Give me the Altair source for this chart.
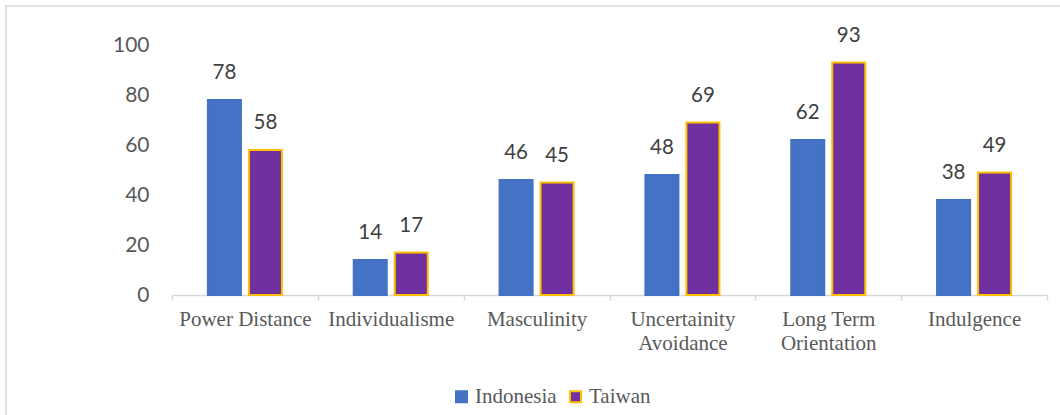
import altair as alt
import pandas as pd

# Hofstede cultural dimension scores
dimensions = [
    "Power Distance",
    "Individualisme",
    "Masculinity",
    "Uncertainity\nAvoidance",
    "Long Term\nOrientation",
    "Indulgence",
]
indonesia = [78, 14, 46, 48, 62, 38]
taiwan = [58, 17, 45, 69, 93, 49]
countries = ["Indonesia", "Taiwan"]
fill_colors = ["#4472C4", "#7030A0"]
edge_colors = ["#4472C4", "#FFC000"]

rows = []
for dim, a, b in zip(dimensions, indonesia, taiwan):
    rows.append({"dimension": dim, "country": "Indonesia", "score": a})
    rows.append({"dimension": dim, "country": "Taiwan", "score": b})
df = pd.DataFrame(rows)

W, H = 875, 250
PAD_L, PAD_T = 172, 45

x_enc = alt.X(
    "dimension:N",
    sort=dimensions,
    title=None,
    scale=alt.Scale(paddingInner=0, paddingOuter=0),
    axis=alt.Axis(
        labelAngle=0,
        labelExpr="split(datum.label, '\\n')",
        labelFont="Liberation Serif",
        labelFontSize=21,
        labelColor="#595959",
        labelLineHeight=24,
        labelPadding=8,
        domainColor="#D9D9D9",
        domainWidth=1.5,
        tickColor="#D9D9D9",
        tickWidth=1.5,
        tickSize=5,
        tickBand="extent",
        grid=False,
    ),
)
xo_enc = alt.XOffset(
    "country:N",
    sort=countries,
    scale=alt.Scale(paddingInner=0.195, paddingOuter=0.875),
)
y_enc = alt.Y(
    "score:Q",
    title=None,
    scale=alt.Scale(domain=[0, 100]),
    axis=alt.Axis(
        values=[0, 20, 40, 60, 80, 100],
        domain=False,
        ticks=False,
        grid=False,
        labelFont="Lato",
        labelFontSize=21,
        labelColor="#595959",
        labelPadding=23,
    ),
)

bars = alt.Chart(df).mark_bar(strokeWidth=2).encode(
    x=x_enc,
    xOffset=xo_enc,
    y=y_enc,
    fill=alt.Fill(
        "country:N",
        sort=countries,
        scale=alt.Scale(domain=countries, range=fill_colors),
        legend=alt.Legend(
            title=None,
            orient="none",
            direction="horizontal",
            legendX=279,
            legendY=341,
            symbolType="square",
            symbolSize=121,
            symbolStrokeWidth=2,
            labelOffset=3,
            columnPadding=8,
            padding=0,
        ),
    ),
    stroke=alt.Stroke(
        "country:N",
        sort=countries,
        scale=alt.Scale(domain=countries, range=edge_colors),
        legend=None,
    ),
)

labels = alt.Chart(df).mark_text(
    baseline="middle",
    dy=-27,
    font="Lato",
    fontSize=20.5,
    color="#404040",
).encode(
    x=alt.X("dimension:N", sort=dimensions),
    xOffset=alt.XOffset("country:N", sort=countries),
    y="score:Q",
    text="score:Q",
)

# light outline around the chart area
frame = alt.Chart(pd.DataFrame({"k": [0]})).mark_rect(
    fill=None, stroke="#D9D9D9", strokeWidth=1.5
).encode(
    x=alt.value(6 - PAD_L),
    x2=alt.value(1075 - PAD_L),
    y=alt.value(6 - PAD_T),
    y2=alt.value(430 - PAD_T),
)

chart = (
    alt.layer(frame, bars, labels)
    .properties(
        width=W,
        height=H,
        autosize=alt.AutoSizeParams(type="none"),
        padding={"left": PAD_L, "top": PAD_T, "right": 1060 - PAD_L - W, "bottom": 415 - PAD_T - H},
        background="white",
    )
    .configure_view(stroke=None)
    .configure_legend(
        labelFont="Liberation Serif",
        labelFontSize=21,
        labelColor="#595959",
    )
)

chart.save("out.html", embed_options={"renderer": "svg", "actions": False})
